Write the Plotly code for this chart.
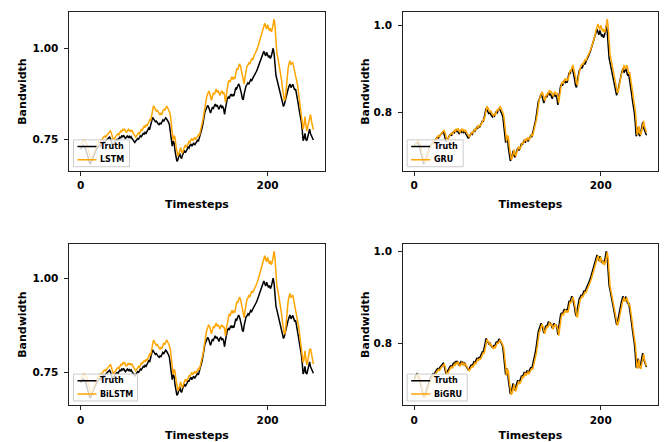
import plotly.graph_objects as go
from plotly.subplots import make_subplots

# Measured bandwidth (ground truth) per timestep
truth = [
    0.722, 0.728, 0.731, 0.733, 0.730, 0.726, 0.718, 0.707, 0.697, 0.688,
    0.682, 0.685, 0.692, 0.701, 0.708, 0.713, 0.717, 0.722, 0.726, 0.729,
    0.733, 0.731, 0.736, 0.739, 0.742, 0.744, 0.741, 0.746, 0.749, 0.752,
    0.754, 0.756, 0.751, 0.738, 0.733, 0.736, 0.741, 0.745, 0.748, 0.750,
    0.747, 0.752, 0.756, 0.754, 0.759, 0.757, 0.761, 0.755, 0.752, 0.756,
    0.759, 0.755, 0.758, 0.754, 0.757, 0.752, 0.748, 0.744, 0.741, 0.745,
    0.749, 0.752, 0.750, 0.756, 0.759, 0.757, 0.762, 0.766, 0.764, 0.769,
    0.766, 0.772, 0.776, 0.781, 0.779, 0.790, 0.801, 0.810, 0.806, 0.802,
    0.798, 0.800, 0.795, 0.792, 0.790, 0.794, 0.792, 0.798, 0.803, 0.800,
    0.806, 0.809, 0.806, 0.802, 0.797, 0.790, 0.772, 0.748, 0.731, 0.745,
    0.740, 0.718, 0.696, 0.689, 0.693, 0.705, 0.712, 0.701, 0.697, 0.706,
    0.714, 0.719, 0.713, 0.716, 0.722, 0.729, 0.726, 0.733, 0.737, 0.731,
    0.735, 0.740, 0.734, 0.738, 0.743, 0.747, 0.744, 0.753, 0.760, 0.770,
    0.781, 0.795, 0.812, 0.825, 0.831, 0.836, 0.843, 0.838, 0.829, 0.822,
    0.830, 0.838, 0.835, 0.843, 0.847, 0.840, 0.844, 0.838, 0.832, 0.840,
    0.843, 0.837, 0.840, 0.833, 0.818, 0.835, 0.850, 0.862, 0.866, 0.862,
    0.870, 0.874, 0.868, 0.872, 0.869, 0.880, 0.892, 0.889, 0.898, 0.902,
    0.897, 0.888, 0.876, 0.862, 0.858, 0.875, 0.890, 0.897, 0.900, 0.905,
    0.902, 0.910, 0.914, 0.911, 0.918, 0.922, 0.926, 0.930, 0.936, 0.942,
    0.949, 0.955, 0.962, 0.970, 0.978, 0.986, 0.992, 0.985, 0.979, 0.989,
    0.983, 0.975, 0.980, 0.972, 0.978, 0.990, 1.000, 0.985, 0.950, 0.925,
    0.915, 0.905, 0.892, 0.885, 0.872, 0.860, 0.850, 0.840, 0.846, 0.858,
    0.872, 0.882, 0.888, 0.896, 0.902, 0.892, 0.897, 0.901, 0.893, 0.885,
    0.888, 0.876, 0.860, 0.845, 0.828, 0.815, 0.800, 0.778, 0.746, 0.752,
    0.766, 0.749, 0.746, 0.756, 0.770, 0.778, 0.765, 0.758, 0.752, 0.748,
]

# Model predictions
lstm = [
    0.737, 0.737, 0.743, 0.746, 0.748, 0.745, 0.741, 0.733, 0.722, 0.712,
    0.703, 0.697, 0.700, 0.707, 0.716, 0.723, 0.728, 0.732, 0.737, 0.741,
    0.744, 0.748, 0.746, 0.751, 0.754, 0.757, 0.759, 0.756, 0.761, 0.764,
    0.768, 0.770, 0.773, 0.766, 0.753, 0.748, 0.751, 0.756, 0.760, 0.763,
    0.765, 0.762, 0.768, 0.773, 0.771, 0.777, 0.775, 0.779, 0.772, 0.768,
    0.773, 0.777, 0.772, 0.776, 0.771, 0.775, 0.768, 0.763, 0.759, 0.756,
    0.760, 0.764, 0.768, 0.765, 0.773, 0.777, 0.775, 0.781, 0.786, 0.784,
    0.790, 0.786, 0.793, 0.798, 0.804, 0.802, 0.816, 0.831, 0.842, 0.837,
    0.832, 0.827, 0.829, 0.823, 0.819, 0.816, 0.821, 0.819, 0.827, 0.833,
    0.829, 0.837, 0.841, 0.837, 0.832, 0.825, 0.816, 0.794, 0.763, 0.746,
    0.760, 0.755, 0.733, 0.711, 0.704, 0.708, 0.720, 0.727, 0.716, 0.712,
    0.721, 0.729, 0.734, 0.728, 0.731, 0.737, 0.744, 0.741, 0.748, 0.752,
    0.746, 0.750, 0.755, 0.749, 0.753, 0.758, 0.762, 0.759, 0.769, 0.778,
    0.790, 0.805, 0.822, 0.843, 0.861, 0.868, 0.874, 0.883, 0.877, 0.866,
    0.857, 0.867, 0.877, 0.873, 0.883, 0.888, 0.879, 0.884, 0.877, 0.870,
    0.879, 0.883, 0.876, 0.879, 0.871, 0.851, 0.873, 0.891, 0.907, 0.912,
    0.907, 0.917, 0.922, 0.914, 0.919, 0.916, 0.929, 0.944, 0.941, 0.952,
    0.957, 0.951, 0.939, 0.924, 0.907, 0.902, 0.923, 0.942, 0.951, 0.954,
    0.960, 0.957, 0.967, 0.972, 0.968, 0.977, 0.982, 0.987, 0.992, 0.999,
    1.007, 1.016, 1.023, 1.032, 1.042, 1.052, 1.062, 1.069, 1.060, 1.053,
    1.065, 1.058, 1.048, 1.055, 1.045, 1.052, 1.067, 1.080, 1.060, 1.017,
    0.986, 0.974, 0.961, 0.945, 0.930, 0.912, 0.890, 0.868, 0.856, 0.862,
    0.895, 0.925, 0.945, 0.958, 0.966, 0.955, 0.960, 0.962, 0.948, 0.935,
    0.928, 0.918, 0.900, 0.880, 0.862, 0.845, 0.828, 0.808, 0.778, 0.790,
    0.812, 0.790, 0.772, 0.785, 0.800, 0.815, 0.818, 0.800, 0.785, 0.776,
]

gru = [
    0.725, 0.725, 0.731, 0.734, 0.736, 0.733, 0.729, 0.721, 0.710, 0.700,
    0.691, 0.685, 0.688, 0.695, 0.704, 0.711, 0.716, 0.720, 0.725, 0.729,
    0.732, 0.736, 0.734, 0.739, 0.742, 0.745, 0.747, 0.744, 0.749, 0.752,
    0.755, 0.757, 0.759, 0.754, 0.741, 0.736, 0.739, 0.744, 0.748, 0.751,
    0.753, 0.750, 0.755, 0.759, 0.757, 0.762, 0.760, 0.764, 0.758, 0.755,
    0.759, 0.762, 0.758, 0.761, 0.757, 0.760, 0.755, 0.751, 0.747, 0.744,
    0.748, 0.752, 0.755, 0.753, 0.759, 0.762, 0.760, 0.765, 0.769, 0.767,
    0.772, 0.769, 0.775, 0.779, 0.784, 0.782, 0.793, 0.806, 0.815, 0.811,
    0.807, 0.801, 0.805, 0.798, 0.795, 0.793, 0.797, 0.795, 0.801, 0.808,
    0.805, 0.811, 0.814, 0.811, 0.807, 0.800, 0.793, 0.775, 0.751, 0.734,
    0.748, 0.743, 0.721, 0.699, 0.692, 0.696, 0.708, 0.715, 0.704, 0.700,
    0.709, 0.717, 0.722, 0.716, 0.719, 0.725, 0.732, 0.729, 0.736, 0.740,
    0.734, 0.738, 0.743, 0.737, 0.741, 0.746, 0.750, 0.747, 0.756, 0.763,
    0.773, 0.784, 0.798, 0.817, 0.830, 0.836, 0.841, 0.848, 0.843, 0.834,
    0.827, 0.835, 0.843, 0.840, 0.848, 0.852, 0.845, 0.849, 0.843, 0.837,
    0.845, 0.848, 0.842, 0.845, 0.838, 0.823, 0.840, 0.855, 0.867, 0.871,
    0.867, 0.875, 0.879, 0.873, 0.877, 0.874, 0.885, 0.897, 0.894, 0.903,
    0.910, 0.902, 0.893, 0.881, 0.867, 0.863, 0.880, 0.895, 0.902, 0.908,
    0.913, 0.910, 0.918, 0.922, 0.919, 0.926, 0.930, 0.934, 0.938, 0.944,
    0.950, 0.957, 0.963, 0.970, 0.978, 0.990, 0.998, 1.004, 0.997, 0.991,
    1.001, 0.995, 0.987, 0.992, 0.984, 0.990, 1.002, 1.015, 0.997, 0.958,
    0.933, 0.923, 0.910, 0.897, 0.890, 0.877, 0.865, 0.855, 0.845, 0.851,
    0.863, 0.877, 0.887, 0.893, 0.901, 0.910, 0.900, 0.905, 0.909, 0.901,
    0.890, 0.893, 0.881, 0.865, 0.850, 0.833, 0.820, 0.805, 0.781, 0.749,
    0.755, 0.769, 0.752, 0.749, 0.759, 0.773, 0.781, 0.768, 0.761, 0.755,
]

bilstm = [
    0.735, 0.736, 0.741, 0.744, 0.746, 0.743, 0.739, 0.731, 0.720, 0.710,
    0.701, 0.695, 0.698, 0.705, 0.714, 0.721, 0.726, 0.730, 0.735, 0.739,
    0.742, 0.746, 0.744, 0.749, 0.752, 0.755, 0.757, 0.754, 0.759, 0.762,
    0.766, 0.768, 0.771, 0.764, 0.751, 0.746, 0.749, 0.754, 0.758, 0.761,
    0.763, 0.760, 0.766, 0.771, 0.769, 0.775, 0.773, 0.777, 0.770, 0.766,
    0.771, 0.775, 0.770, 0.774, 0.769, 0.773, 0.766, 0.761, 0.757, 0.754,
    0.758, 0.762, 0.766, 0.763, 0.771, 0.775, 0.773, 0.776, 0.781, 0.779,
    0.785, 0.781, 0.788, 0.793, 0.799, 0.797, 0.811, 0.826, 0.836, 0.831,
    0.827, 0.822, 0.824, 0.818, 0.814, 0.811, 0.816, 0.814, 0.822, 0.828,
    0.824, 0.832, 0.836, 0.832, 0.827, 0.820, 0.811, 0.789, 0.761, 0.744,
    0.758, 0.753, 0.731, 0.709, 0.702, 0.706, 0.718, 0.725, 0.714, 0.710,
    0.719, 0.727, 0.732, 0.726, 0.729, 0.735, 0.742, 0.739, 0.746, 0.750,
    0.744, 0.748, 0.753, 0.747, 0.751, 0.756, 0.760, 0.757, 0.767, 0.776,
    0.785, 0.800, 0.817, 0.838, 0.856, 0.863, 0.869, 0.876, 0.872, 0.861,
    0.852, 0.862, 0.872, 0.868, 0.876, 0.881, 0.872, 0.877, 0.872, 0.865,
    0.872, 0.876, 0.871, 0.872, 0.866, 0.846, 0.868, 0.884, 0.900, 0.905,
    0.900, 0.910, 0.915, 0.907, 0.912, 0.909, 0.922, 0.937, 0.934, 0.945,
    0.950, 0.944, 0.932, 0.917, 0.900, 0.895, 0.916, 0.935, 0.944, 0.947,
    0.953, 0.950, 0.960, 0.965, 0.961, 0.970, 0.972, 0.977, 0.982, 0.989,
    0.997, 1.006, 1.013, 1.022, 1.032, 1.042, 1.052, 1.059, 1.050, 1.043,
    1.055, 1.048, 1.038, 1.045, 1.035, 1.042, 1.058, 1.071, 1.051, 1.008,
    0.977, 0.967, 0.954, 0.938, 0.923, 0.905, 0.883, 0.863, 0.851, 0.857,
    0.888, 0.918, 0.938, 0.951, 0.959, 0.948, 0.953, 0.955, 0.941, 0.928,
    0.921, 0.911, 0.893, 0.875, 0.857, 0.840, 0.823, 0.803, 0.776, 0.786,
    0.807, 0.786, 0.770, 0.781, 0.796, 0.810, 0.813, 0.796, 0.781, 0.772,
]

bigru = [
    0.720, 0.720, 0.726, 0.729, 0.731, 0.728, 0.724, 0.716, 0.705, 0.695,
    0.686, 0.680, 0.683, 0.690, 0.699, 0.706, 0.711, 0.715, 0.720, 0.724,
    0.727, 0.731, 0.729, 0.734, 0.737, 0.740, 0.742, 0.739, 0.744, 0.747,
    0.750, 0.752, 0.754, 0.749, 0.736, 0.731, 0.734, 0.739, 0.743, 0.746,
    0.748, 0.745, 0.750, 0.754, 0.752, 0.757, 0.755, 0.759, 0.753, 0.750,
    0.754, 0.757, 0.753, 0.756, 0.752, 0.755, 0.750, 0.746, 0.742, 0.739,
    0.743, 0.747, 0.750, 0.748, 0.754, 0.757, 0.755, 0.760, 0.764, 0.762,
    0.767, 0.764, 0.770, 0.774, 0.779, 0.777, 0.788, 0.799, 0.808, 0.804,
    0.800, 0.796, 0.798, 0.793, 0.790, 0.788, 0.792, 0.790, 0.796, 0.801,
    0.798, 0.804, 0.807, 0.804, 0.800, 0.795, 0.788, 0.770, 0.746, 0.729,
    0.743, 0.738, 0.716, 0.694, 0.687, 0.691, 0.703, 0.710, 0.699, 0.695,
    0.704, 0.712, 0.717, 0.711, 0.714, 0.720, 0.727, 0.724, 0.731, 0.735,
    0.729, 0.733, 0.738, 0.732, 0.736, 0.741, 0.745, 0.742, 0.751, 0.758,
    0.768, 0.779, 0.793, 0.810, 0.823, 0.829, 0.834, 0.841, 0.836, 0.827,
    0.820, 0.828, 0.836, 0.833, 0.841, 0.845, 0.838, 0.842, 0.836, 0.830,
    0.838, 0.841, 0.835, 0.838, 0.831, 0.816, 0.833, 0.848, 0.860, 0.864,
    0.860, 0.868, 0.872, 0.866, 0.870, 0.867, 0.878, 0.890, 0.887, 0.896,
    0.900, 0.895, 0.886, 0.874, 0.860, 0.856, 0.873, 0.888, 0.895, 0.898,
    0.903, 0.900, 0.908, 0.912, 0.909, 0.916, 0.920, 0.924, 0.928, 0.934,
    0.940, 0.947, 0.953, 0.960, 0.968, 0.976, 0.984, 0.990, 0.983, 0.977,
    0.987, 0.981, 0.973, 0.978, 0.970, 0.976, 0.988, 0.998, 0.983, 0.948,
    0.923, 0.913, 0.903, 0.890, 0.883, 0.870, 0.858, 0.848, 0.838, 0.844,
    0.856, 0.870, 0.880, 0.886, 0.894, 0.900, 0.890, 0.895, 0.899, 0.891,
    0.883, 0.886, 0.874, 0.858, 0.843, 0.826, 0.813, 0.798, 0.776, 0.744,
    0.750, 0.764, 0.747, 0.744, 0.754, 0.768, 0.776, 0.763, 0.756, 0.750,
]

x_ticks = [0, 200]
y_ticks_lstm = [0.75, 1.00]
y_ticks_gru = [0.8, 1.0]

TRUTH_COLOR = "black"
PRED_COLOR = "#FFA500"
FONT = "DejaVu Sans"
W, H = 669, 442

# (model name, predictions, row, col, y ticks, tick format)
panels = [
    ("LSTM", lstm, 1, 1, y_ticks_lstm, ".2f"),
    ("GRU", gru, 1, 2, y_ticks_gru, ".1f"),
    ("BiLSTM", bilstm, 2, 1, y_ticks_lstm, ".2f"),
    ("BiGRU", bigru, 2, 2, y_ticks_gru, ".1f"),
]

# Axes placement (paper fractions)
x_domains = {1: [0.1031, 0.4858], 2: [0.6019, 0.9836]}
y_domains = {1: [0.6109, 0.9729], 2: [0.0785, 0.4457]}

# Legend box geometry in pixels, measured from each axes' lower-left corner
LEG_PAD = 4.5          # gap between axes frame and legend box
LEG_H = 27             # box height
LEG_ROWS = (6.7, 20)   # row centres below the box top
LEG_LINE = (4, 23)     # handle start / end from box left
LEG_TEXT = 26          # label start from box left
leg_width = {"LSTM": 56, "GRU": 56, "BiLSTM": 64, "BiGRU": 60}

fig = make_subplots(rows=2, cols=2)

layout_updates = {}
shapes = []
annotations = []
for idx, (name, pred, row, col, yticks, yfmt) in enumerate(panels):
    fig.add_trace(
        go.Scatter(x=list(range(len(truth))), y=truth, mode="lines", name="Truth",
                   line=dict(color=TRUTH_COLOR, width=1.5), showlegend=False),
        row=row, col=col,
    )
    fig.add_trace(
        go.Scatter(x=list(range(len(pred))), y=pred, mode="lines", name=name,
                   line=dict(color=PRED_COLOR, width=1.5), showlegend=False),
        row=row, col=col,
    )

    lo = min(min(truth), min(pred))
    hi = max(max(truth), max(pred))
    pad = 0.05 * (hi - lo)
    n = len(truth) - 1
    xpad = 0.05 * n

    suffix = "" if idx == 0 else str(idx + 1)
    axis_common = dict(
        showline=True, mirror=True, linecolor="#222", linewidth=1,
        ticks="outside", ticklen=3.5, tickwidth=0.8, tickcolor="#222",
        showgrid=False, zeroline=False,
        tickfont=dict(family=FONT, size=10.5, color="black", weight="bold"),
    )
    layout_updates["xaxis" + suffix] = dict(
        axis_common, domain=x_domains[col], range=[-xpad, n + xpad],
        tickvals=x_ticks, ticklabelstandoff=1,
        title=dict(text="Timesteps", standoff=9,
                   font=dict(family=FONT, size=11, color="black", weight="bold")),
    )
    layout_updates["yaxis" + suffix] = dict(
        axis_common, domain=y_domains[row], range=[lo - pad, hi + pad],
        tickvals=yticks, tickformat=yfmt, ticklabelstandoff=4,
        title=dict(text="Bandwidth", standoff=3 if col == 1 else 1,
                   font=dict(family=FONT, size=11, color="black", weight="bold")),
    )

    # Legend drawn inside the lower-left corner of the axes
    ax_w = (x_domains[col][1] - x_domains[col][0]) * W
    ax_h = (y_domains[row][1] - y_domains[row][0]) * H
    xref = "x" + suffix + " domain"
    yref = "y" + suffix + " domain"
    left = LEG_PAD
    top = LEG_PAD + LEG_H
    shapes.append(dict(
        type="rect", xref=xref, yref=yref, layer="above",
        x0=left / ax_w, x1=(left + leg_width[name]) / ax_w,
        y0=LEG_PAD / ax_h, y1=top / ax_h,
        fillcolor="rgba(255,255,255,0.8)", line=dict(color="#cccccc", width=1),
    ))
    for label, color, off in (("Truth", TRUTH_COLOR, LEG_ROWS[0]),
                              (name, PRED_COLOR, LEG_ROWS[1])):
        yy = (top - off) / ax_h
        shapes.append(dict(
            type="line", xref=xref, yref=yref, layer="above",
            x0=(left + LEG_LINE[0]) / ax_w, x1=(left + LEG_LINE[1]) / ax_w,
            y0=yy, y1=yy, line=dict(color=color, width=1.5),
        ))
        annotations.append(dict(
            text=label, xref=xref, yref=yref, x=(left + LEG_TEXT) / ax_w, y=yy,
            xanchor="left", yanchor="middle", showarrow=False, borderpad=0,
            font=dict(family=FONT, size=8, color="black", weight="bold"),
        ))

fig.update_layout(**layout_updates)
fig.update_layout(
    width=W, height=H,
    margin=dict(l=0, r=0, t=0, b=0),
    paper_bgcolor="white", plot_bgcolor="white",
    font=dict(family=FONT, color="black"),
    shapes=shapes, annotations=annotations,
)

fig.write_html("out.html")
